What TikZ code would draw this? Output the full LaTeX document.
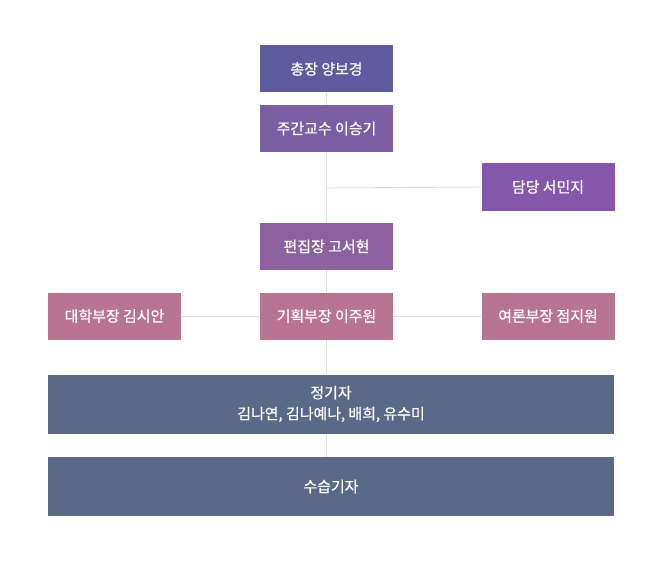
\documentclass[tikz,border=0pt]{standalone}
\usepackage{fontspec}
\setmainfont{Noto Sans CJK KR}[FakeBold=0.6]
\begin{document}
\begin{tikzpicture}[x=1bp,y=-1bp,
  box/.style={draw=none,text=white,minimum width=133bp,minimum height=47bp,inner sep=0pt,font=\fontsize{15}{21}\selectfont,align=center},
  wide/.style={box,minimum width=566bp,minimum height=59bp},
  link/.style={draw=black!13,line width=0.9bp}]
\definecolor{cA}{HTML}{5F5B9F}
\definecolor{cB}{HTML}{7A5FA3}
\definecolor{cC}{HTML}{8557AB}
\definecolor{cD}{HTML}{8D619F}
\definecolor{cE}{HTML}{B87493}
\definecolor{cF}{HTML}{5B6988}
\useasboundingbox[fill=white] (0,0) rectangle (656,564);
\coordinate (j1) at (327,188);
\node[box,fill=cA] (pres) at (326.5,69) {총장 양보경};
\node[box,fill=cB] (prof) at (326.5,128.5) {주간교수 이승기};
\node[box,fill=cC] (staff) at (548,187) {담당 서민지};
\node[box,fill=cD] (ed) at (326.5,246.5) {편집장 고서현};
\node[box,fill=cE] (univ) at (114.5,316) {대학부장 김시안};
\node[box,fill=cE] (plan) at (326.5,316) {기획부장 이주원};
\node[box,fill=cE] (opin) at (548,316) {여론부장 점지원};
\node[wide,fill=cF] (reg) at (331,404) {정기자\\김나연, 김나예나, 배희, 유수미};
\node[wide,fill=cF] (trn) at (331,486.5) {수습기자};
\draw[link] (pres.south) -- (prof.north);
\draw[link] (prof.south) -- (ed.north);
\draw[link] (j1) -- (staff.west);
\draw[link] (ed.south) -- (plan.north);
\draw[link] (univ.east) -- (plan.west);
\draw[link] (plan.east) -- (opin.west);
\draw[link] (plan.south) -- (plan.south |- reg.north);
\draw[link] (plan.south |- reg.south) -- (plan.south |- trn.north);
\end{tikzpicture}
\end{document}
